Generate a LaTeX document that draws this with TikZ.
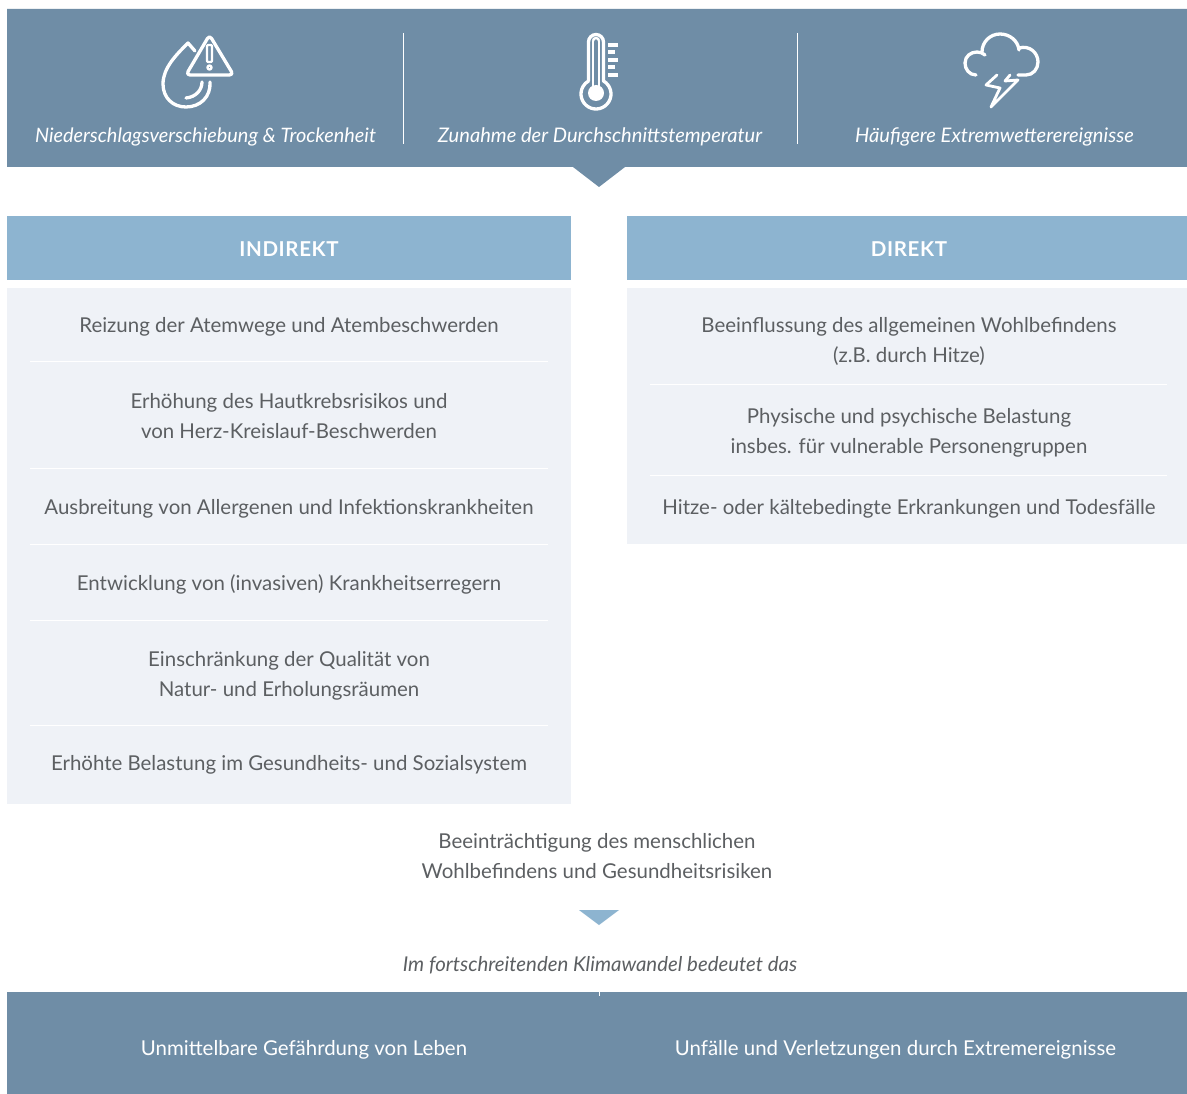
\documentclass[tikz,border=0pt]{standalone}
\usepackage{fontspec}
\setmainfont{Lato}
\definecolor{barblue}{HTML}{6F8DA6}
\definecolor{headblue}{HTML}{8DB4D0}
\definecolor{panel}{HTML}{EFF2F7}
\definecolor{ink}{HTML}{5C5F62}
\tikzset{
  x=1pt,y=-1pt,
  bartext/.style={text=white,font=\fontsize{20.1}{24}\selectfont\itshape,anchor=center,inner sep=0pt},
  headtext/.style={text=white,font=\fontsize{20.5}{24}\selectfont\bfseries\addfontfeature{LetterSpace=3},anchor=center,inner sep=0pt},
  itemtext/.style={text=ink,font=\fontsize{20.45}{29.8}\selectfont,anchor=center,align=center,inner sep=0pt},
  planetext/.style={text=white,font=\fontsize{20.45}{24}\selectfont,anchor=center,inner sep=0pt},
  icon/.style={draw=white,line width=3.3pt,line cap=round,line join=round},
  rule/.style={draw=white,line width=0.8pt},
}
\begin{document}
\begin{tikzpicture}
\useasboundingbox (0,0) rectangle (1187,1094);
\fill[white] (0,0) rectangle (1187,1094);
% top bar
\fill[barblue] (7,9) -- (1187,9) -- (1187,167) -- (625,167) -- (599,187) -- (573,167) -- (7,167) -- cycle;
\draw[white,line width=0.9pt] (403,33) -- (403,144) (797,33) -- (797,144);
\node[bartext,font=\fontsize{19.9}{24}\selectfont\itshape] (t1) at (205.5,137) {Niederschlagsverschiebung \& Trockenheit};
\node[bartext] (t2) at (600,137) {Zunahme der Durchschnittstemperatur};
\node[bartext] (t3) at (994.5,137) {Häufigere Extremwetterereignisse};
% drop icon
\draw[icon] (195,51) -- (188,43) .. controls (176,55) and (163,68) .. (163,84)
  .. controls (163,98) and (173,107) .. (186,107) .. controls (200,107) and (211,97) .. (210,82);
\draw[icon] (202,82) .. controls (202,90) and (196,97) .. (186,98);
\draw[icon,rounded corners=4pt] (209.5,35) -- (233.5,75) -- (186,75) -- cycle;
\draw[icon,line width=2.4pt,rounded corners=1pt] (207,45) rectangle (212,62);
\draw[icon,line width=2.4pt] (209.5,67.5) circle (2);
% thermometer icon
\draw[icon] (588.5,81) -- (588.5,42) arc (180:360:7.5) -- (603.5,81) arc (-60:240:15);
\fill[white] (596,93) circle (8);
\draw[white,line width=2.4pt] (593,41) -- (593,87) (599,41) -- (599,87);
\draw[white,line width=2.4pt] (593,41) arc (180:360:3);
\draw[white,line width=3.2pt] (608,45) -- (618,45) (608,52) -- (615,52) (608,60) -- (618,60) (608,67) -- (615,67) (608,75) -- (618,75);
% storm icon
\draw[icon] (976,75) .. controls (969,75) and (965,69) .. (965,63) .. controls (965,56) and (971,52) .. (977,52)
  .. controls (980,52) and (983,53) .. (985,55);
\draw[icon] (982,52) .. controls (982,42) and (990,34) .. (1000,34) .. controls (1010,34) and (1018,41) .. (1019,50);
\draw[icon] (1019,48) .. controls (1030,45) and (1038,53) .. (1038,62) .. controls (1038,69) and (1033,75) .. (1026,75) -- (1018,75);
\draw[icon,line width=2.8pt] (997,75) -- (986,85) -- (1000,88) -- (991,107) -- (1018,80) -- (1005,81) -- (1010,75);
% column headers
\fill[headblue] (7,216) rectangle (571,280);
\fill[headblue] (627,216) rectangle (1187,280);
\node[headtext] (h1) at (289,249.5) {INDIREKT};
\node[headtext] (h2) at (909,249.5) {DIREKT};
% panels
\fill[panel] (7,288) rectangle (571,804);
\fill[panel] (627,288) rectangle (1187,544);
\foreach \y in {361,468,544,620,725} \draw[rule] (30,\y) -- (548,\y);
\foreach \y in {384,475} \draw[rule] (650,\y) -- (1167,\y);
\node[itemtext] (a1) at (289,327) {Reizung der Atemwege und Atembeschwerden};
\node[itemtext] (a2) at (289,416) {Erhöhung des Hautkrebsrisikos und\\von Herz-Kreislauf-Beschwerden};
\node[itemtext] (a3) at (289,509) {Ausbreitung von Allergenen und Infektionskrankheiten};
\node[itemtext] (a4) at (289,584.5) {Entwicklung von (invasiven) Krankheitserregern};
\node[itemtext] (a5) at (289,676) {Einschränkung der Qualität von\\Natur- und Erholungsräumen};
\node[itemtext] (a6) at (289,765) {Erhöhte Belastung im Gesundheits- und Sozialsystem};
\node[itemtext] (b1) at (909,341.5) {Beeinflussung des allgemeinen Wohlbefindens\\(z.B. durch Hitze)};
\node[itemtext] (b2) at (909,433) {Physische und psychische Belastung\\insbes. für vulnerable Personengruppen};
\node[itemtext] (b3) at (909,509) {Hitze- oder kältebedingte Erkrankungen und Todesfälle};
% lower part
\node[itemtext] (c1) at (597,856) {Beeinträchtigung des menschlichen\\Wohlbefindens und Gesundheitsrisiken};
\fill[headblue] (579,910) -- (619,910) -- (599,925) -- cycle;
\node[itemtext,font=\fontsize{20.4}{24}\selectfont\itshape] (c2) at (600,965.5) {Im fortschreitenden Klimawandel bedeutet das};
\fill[barblue] (7,992) rectangle (1187,1094);
\draw[white,line width=0.8pt] (599,992) -- (599,996);
\node[planetext] (d1) at (304,1050) {Unmittelbare Gefährdung von Leben};
\node[planetext] (d2) at (895.5,1050) {Unfälle und Verletzungen durch Extremereignisse};
\end{tikzpicture}
\end{document}
